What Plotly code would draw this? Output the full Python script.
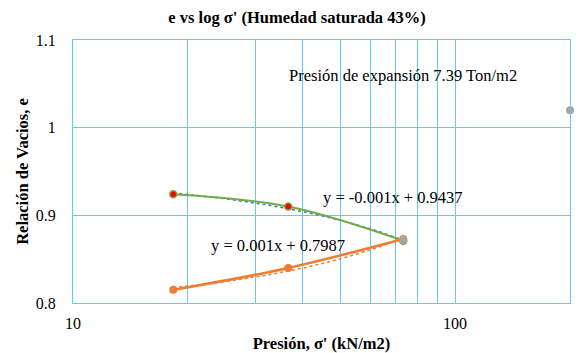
import numpy as np
import plotly.graph_objects as go

# Data (kN/m2, void ratio)
sigma = [18.3, 36.6, 73.2]
e_load = [0.924, 0.910, 0.871]      # green series
e_swell = [0.815, 0.840, 0.873]     # orange series
gray_x = [73.2, 200]
gray_y = [0.872, 1.02]

x_ticks = [10, 20, 30, 40, 50, 60, 70, 80, 90, 100, 200]
x_ticktext = ["10", "", "", "", "", "", "", "", "", "100", ""]
y_ticks = [0.8, 0.9, 1.0, 1.1]
y_ticktext = ["0.8", "0.9", "1", "1.1"]

title = "e vs log σ' (Humedad saturada 43%)"
xlab = "Presión, σ' (kN/m2)"
ylab = "Relación de Vacios, e"
ann_exp = "Presión de expansión 7.39 Ton/m2"
eq_load = "y = -0.001x + 0.9437"
eq_swell = "y = 0.001x + 0.7987"

GREEN = "#70AD47"
ORANGE = "#ED7D31"
BLUE = "#4472C4"
GRAY = "#A5A5A5"
GRID = "#5CCBF5"
FONT = "Liberation Serif"

L, R, T, B = 73, 13, 40, 50
W, H = 583, 353
PW, PH = W - L - R, H - T - B


def px(xp):
    return (xp - L) / PW


def py(yp):
    return (H - B - yp) / PH


# linear trendlines fitted on the data (as in the chart equations)
m1, b1 = np.polyfit(sigma, e_load, 1)
m2, b2 = np.polyfit(sigma, e_swell, 1)
xt = np.geomspace(min(sigma), max(sigma), 60)

fig = go.Figure()
fig.add_trace(go.Scatter(x=xt, y=m1 * xt + b1, mode="lines",
                         line=dict(color=BLUE, width=1.5, dash="dot"), hoverinfo="skip"))
fig.add_trace(go.Scatter(x=xt, y=m2 * xt + b2, mode="lines",
                         line=dict(color=ORANGE, width=1.5, dash="dot"), hoverinfo="skip"))
fig.add_trace(go.Scatter(x=sigma, y=e_load, mode="lines+markers",
                         line=dict(color=GREEN, width=2, shape="spline"),
                         marker=dict(color="#FF0000", size=7, line=dict(color=GREEN, width=1.5))))
fig.add_trace(go.Scatter(x=sigma, y=e_swell, mode="lines+markers",
                         line=dict(color=ORANGE, width=2.5, shape="spline"),
                         marker=dict(color=ORANGE, size=8)))
fig.add_trace(go.Scatter(x=gray_x, y=gray_y, mode="markers",
                         marker=dict(color=GRAY, size=8), cliponaxis=False))

fig.update_layout(
    width=W, height=H,
    margin=dict(l=L, r=R, t=T, b=B, autoexpand=False),
    plot_bgcolor="white", paper_bgcolor="white",
    showlegend=False,
    font=dict(family=FONT, size=16, color="#000000"),
    title=dict(text="<b>" + title + "</b>", x=297 / W, xanchor="center",
               y=1 - 17 / H, yanchor="middle", font=dict(family=FONT, size=16.5)),
    xaxis=dict(type="log", range=[1, np.log10(200)], tickmode="array",
               tickvals=x_ticks, ticktext=x_ticktext,
               showgrid=True, gridcolor=GRID, gridwidth=1,
               showline=True, linecolor=GRID, linewidth=1, mirror=True,
               ticks="outside", ticklen=6, tickcolor="rgba(0,0,0,0)",
               zeroline=False, tickfont=dict(size=16), automargin=False,
               title=dict(text="<b>" + xlab + "</b>", font=dict(family=FONT, size=16.5), standoff=6)),
    yaxis=dict(range=[0.8, 1.1], tickmode="array", tickvals=y_ticks, ticktext=y_ticktext,
               showgrid=True, gridcolor=GRID, gridwidth=1,
               showline=True, linecolor=GRID, linewidth=1, mirror=True,
               ticks="outside", ticklen=13, tickcolor="rgba(0,0,0,0)",
               zeroline=False, tickfont=dict(size=16), automargin=False,
               title=dict(text="<b>" + ylab + "</b>", font=dict(family=FONT, size=16.5), standoff=3)),
    annotations=[
        dict(text=ann_exp, x=px(287), y=py(75),
             xref="paper", yref="paper", xanchor="left", yanchor="middle",
             showarrow=False, font=dict(family=FONT, size=16.5)),
        dict(text=eq_load, x=px(321), y=py(197), xref="paper", yref="paper",
             xanchor="left", yanchor="middle", showarrow=False, font=dict(family=FONT, size=16.5)),
        dict(text=eq_swell, x=px(209), y=py(245), xref="paper", yref="paper",
             xanchor="left", yanchor="middle", showarrow=False, font=dict(family=FONT, size=16.5)),
    ],
)

fig.write_html("out.html")
